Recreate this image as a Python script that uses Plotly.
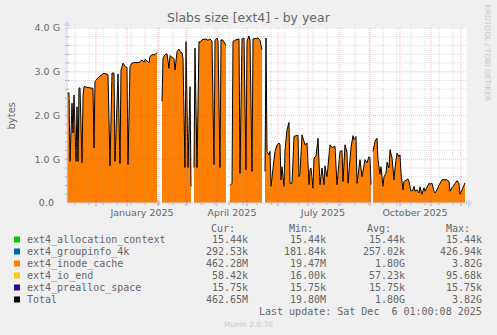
import plotly.graph_objects as go
import pandas as pd

# ---------------------------------------------------------------------------
# Data: ext4 slab cache size, yearly view (values in G)
# ---------------------------------------------------------------------------
days = [
    "2024-11-02", "2024-11-04", "2024-11-05", "2024-11-07", "2024-11-08", "2024-11-09",
    "2024-11-11", "2024-11-12", "2024-11-13", "2024-11-14", "2024-11-15", "2024-11-17",
    "2024-11-18", "2024-11-19", "2024-11-23", "2024-11-27", "2024-11-28", "2024-11-29",
    "2024-11-30", "2024-12-02", "2024-12-05", "2024-12-09", "2024-12-10", "2024-12-12",
    "2024-12-13", "2024-12-15", "2024-12-17", "2024-12-19", "2024-12-20", "2024-12-23",
    "2024-12-25", "2024-12-26", "2024-12-28", "2024-12-30", "2025-01-01", "2025-01-02",
    "2025-01-04", "2025-01-06", "2025-01-09", "2025-01-13", "2025-01-14", "2025-01-16",
    "2025-01-18", "2025-01-19", "2025-01-21", "2025-01-23", "2025-01-24", "2025-01-26",
    "2025-01-29", "2025-01-31", "2025-02-01",
    "2025-02-05", "2025-02-06", "2025-02-08", "2025-02-10", "2025-02-12", "2025-02-13",
    "2025-02-15", "2025-02-17", "2025-02-18", "2025-02-20", "2025-02-22", "2025-02-23",
    "2025-02-25", "2025-02-26", "2025-02-28", "2025-03-01", "2025-03-03", "2025-03-04",
    "2025-03-05", "2025-03-06", "2025-03-07",
    "2025-03-09", "2025-03-10", "2025-03-12", "2025-03-14", "2025-03-15", "2025-03-17",
    "2025-03-20", "2025-03-23", "2025-03-25", "2025-03-27", "2025-03-29", "2025-03-30",
    "2025-04-01", "2025-04-02", "2025-04-04", "2025-04-05", "2025-04-07", "2025-04-10",
    "2025-04-11",
    "2025-04-14", "2025-04-16", "2025-04-17", "2025-04-20", "2025-04-23", "2025-04-24",
    "2025-04-26", "2025-04-28", "2025-04-30", "2025-05-01", "2025-05-03", "2025-05-04",
    "2025-05-06", "2025-05-07", "2025-05-12", "2025-05-14", "2025-05-16", "2025-05-17",
    "2025-05-19", "2025-05-20", "2025-05-21", "2025-05-23", "2025-05-24", "2025-05-25",
    "2025-05-28", "2025-05-29", "2025-05-31", "2025-06-02", "2025-06-03", "2025-06-04",
    "2025-06-05", "2025-06-07", "2025-06-08", "2025-06-10", "2025-06-12", "2025-06-13",
    "2025-06-15", "2025-06-17", "2025-06-18", "2025-06-21", "2025-06-22", "2025-06-23",
    "2025-06-25", "2025-06-27", "2025-06-28", "2025-06-30", "2025-07-02", "2025-07-03",
    "2025-07-04", "2025-07-06", "2025-07-07", "2025-07-09", "2025-07-11", "2025-07-13",
    "2025-07-15", "2025-07-17", "2025-07-18", "2025-07-20", "2025-07-21", "2025-07-23",
    "2025-07-25", "2025-07-28", "2025-07-30", "2025-08-01", "2025-08-02", "2025-08-04",
    "2025-08-05", "2025-08-07", "2025-08-09", "2025-08-10", "2025-08-12", "2025-08-13",
    "2025-08-15", "2025-08-16", "2025-08-18", "2025-08-19", "2025-08-21", "2025-08-22",
    "2025-08-24", "2025-08-26", "2025-08-27", "2025-08-29", "2025-08-31", "2025-09-01",
    "2025-09-02", "2025-09-03",
    "2025-09-04", "2025-09-06", "2025-09-08", "2025-09-09", "2025-09-11", "2025-09-12",
    "2025-09-14", "2025-09-15", "2025-09-17", "2025-09-18", "2025-09-20", "2025-09-21",
    "2025-09-23", "2025-09-25", "2025-09-26", "2025-09-28", "2025-09-30", "2025-10-01",
    "2025-10-02", "2025-10-04", "2025-10-05", "2025-10-07", "2025-10-09", "2025-10-10",
    "2025-10-12", "2025-10-14", "2025-10-15", "2025-10-16", "2025-10-18", "2025-10-20",
    "2025-10-21", "2025-10-23", "2025-10-25", "2025-10-26", "2025-10-28", "2025-10-30",
    "2025-10-31", "2025-11-02", "2025-11-04", "2025-11-05", "2025-11-07", "2025-11-09",
    "2025-11-12", "2025-11-14", "2025-11-17", "2025-11-19", "2025-11-20", "2025-11-22",
    "2025-11-24", "2025-11-25", "2025-11-27", "2025-11-29", "2025-11-30", "2025-12-02",
    "2025-12-04", "2025-12-05",
]

inode_cache_g = [
    2.50, 2.52, 0.95, 2.28, 1.60, 2.47,
    0.95, 2.20, 0.95, 2.63, 2.63, 0.92,
    2.45, 2.66, 2.64, 2.63, 2.62, 1.26,
    2.78, 2.84, 2.90, 2.97, 2.95, 2.95,
    2.93, 0.85, 2.97, 2.97, 0.95, 2.95,
    0.90, 3.04, 3.20, 3.12, 3.10, 0.88,
    3.12, 3.20, 3.21, 3.21, 3.23, 3.27,
    3.22, 3.28, 3.25, 3.20, 3.35, 3.39,
    3.39, 3.44, None,
    2.32, 3.31, 3.39, 3.41, 3.08, 3.37,
    3.33, 3.30, 3.04, 3.46, 3.52, 3.46,
    3.43, 3.30, 0.81, 3.69, 0.81, 2.28,
    2.66, 0.38, None,
    0.81, 3.54, 0.81, 3.69, 3.67, 3.73,
    3.75, 3.72, 3.75, 3.70, 0.88, 3.72,
    3.77, 3.70, 0.81, 3.73, 3.72, 3.60,
    None,
    0.40, 0.45, 3.69, 3.73, 3.75, 0.68,
    3.75, 3.77, 0.76, 3.70, 3.82, 3.72,
    0.72, 3.75, 3.77, 3.72, 3.50, None,
    0.72, 3.77, 1.18, 1.10, 1.18, 0.38,
    0.99, 1.18, 1.33, 1.37, 1.33, 0.53,
    0.83, 0.38, 1.21, 1.67, 1.84, 0.45,
    0.45, 1.52, 1.53, 1.55, 0.60, 0.68,
    1.56, 1.37, 1.33, 1.37, 0.42, 0.76,
    0.80, 0.34, 1.03, 1.07, 1.48, 0.42,
    0.80, 0.42, 0.85, 0.60, 0.85, 1.33,
    1.27, 1.29, 0.42, 0.85, 1.18, 1.20,
    0.49, 1.33, 1.15, 0.45, 0.99, 1.27,
    1.54, 1.45, 1.52, 0.45, 0.80, 0.99,
    0.60, 0.85, 0.99, 0.92, 1.06, 1.03,
    0.42, None,
    1.18, 1.41, 1.48, 0.99, 0.66, 0.83,
    0.38, 0.60, 0.68, 0.93, 0.80, 1.22,
    1.03, 0.53, 0.80, 1.14, 1.06, 1.10,
    0.68, 0.30, 0.49, 0.53, 0.55, 0.49,
    0.27, 0.30, 0.38, 0.27, 0.30, 0.23,
    0.37, 0.20, 0.35, 0.27, 0.37, 0.45,
    0.43, 0.45, 0.27, 0.23, 0.30, 0.41,
    0.53, 0.53, 0.53, 0.49, 0.27, 0.35,
    0.41, 0.46, 0.51, 0.45, 0.20, 0.30,
    0.44, 0.46,
]

# The other ext4 caches together stay well below 1 MB, so the stacked
# total is indistinguishable from the inode cache at this scale.
total_g = list(inode_cache_g)

# Legend table
series_names = ["ext4_allocation_context", "ext4_groupinfo_4k", "ext4_inode_cache",
                "ext4_io_end", "ext4_prealloc_space", "Total"]
series_colors = ["#00CC00", "#0066B3", "#FF8000", "#FFCC00", "#330099", "#000000"]
cur_vals = ["15.44k", "292.53k", "462.28M", "58.42k", "15.75k", "462.65M"]
min_vals = ["15.44k", "181.84k", "19.47M", "16.00k", "15.75k", "19.80M"]
avg_vals = ["15.44k", "257.02k", "1.80G", "57.23k", "15.75k", "1.80G"]
max_vals = ["15.44k", "426.94k", "3.82G", "95.68k", "15.75k", "3.82G"]

y_ticks = [0, 1, 2, 3, 4]
y_ticktext = ["0.0\u00a0\u00a0", "1.0 G", "2.0 G", "3.0 G", "4.0 G"]
x_label_days = ["2025-01-16", "2025-04-16", "2025-07-16", "2025-10-16"]
x_label_text = ["January 2025", "April 2025", "July 2025", "October 2025"]

x_start, x_end = "2024-11-02", "2025-12-07"

# ---------------------------------------------------------------------------
# Layout geometry
# ---------------------------------------------------------------------------
W, H = 497, 335
L, R, T, B = 67, 30, 28, 132
PW, PH = W - L - R, H - T - B


def px(x):
    return (x - L) / PW


def py(y):
    return (H - B - y) / PH


FONT = "DejaVu Sans"
MONO = "DejaVu Sans Mono"
FONT_COLOR = "#666666"
AXIS_COLOR = "#CFD6F8"
GRID_COLOR = "rgba(143,143,143,0.75)"
MGRID_COLOR = "rgba(222,79,79,0.6)"

fig = go.Figure()

# Unknown samples split the area into separate filled runs
runs, run_x, run_y = [], [], []
for d, v in zip(days, inode_cache_g):
    if v is None:
        if run_x:
            runs.append((run_x, run_y))
        run_x, run_y = [], []
    else:
        run_x.append(d)
        run_y.append(v)
if run_x:
    runs.append((run_x, run_y))

for rx, ry in runs:
    fig.add_trace(go.Scatter(
        x=rx, y=ry, mode="lines", name="ext4_inode_cache",
        line=dict(width=0, color="#FF8000"), fill="tozeroy", fillcolor="#FF8000",
        hoverinfo="skip",
    ))

fig.add_trace(go.Scatter(
    x=days, y=total_g, mode="lines", name="Total",
    line=dict(width=1, color="#000000"), connectgaps=False, hoverinfo="skip",
))

shapes = []

# minor grid (every 0.2 G) and major grid (every 1 G), drawn over the data
for i in range(1, 21):
    v = i * 0.2
    major = i % 5 == 0
    shapes.append(dict(
        type="line", xref="paper", yref="y", x0=0, x1=1, y0=v, y1=v,
        line=dict(color=MGRID_COLOR if major else GRID_COLOR,
                  width=0.6 if major else 0.4, dash="1px,1px"),
        layer="above"))
    shapes.append(dict(
        type="line", xref="paper", yref="y", x0=-2 / PW, x1=2 / PW, y0=v, y1=v,
        line=dict(color=MGRID_COLOR if major else GRID_COLOR, width=1),
        layer="above"))

# vertical grid: fortnightly minor lines, monthly major lines
for d in pd.date_range("2024-11-10", x_end, freq="14D"):
    shapes.append(dict(
        type="line", xref="x", yref="paper", x0=d, x1=d, y0=0, y1=1,
        line=dict(color=GRID_COLOR, width=0.4, dash="1px,1px"), layer="above"))
    shapes.append(dict(
        type="line", xref="x", yref="paper", x0=d, x1=d, y0=-2 / PH, y1=2 / PH,
        line=dict(color=GRID_COLOR, width=1), layer="above"))
for d in pd.date_range("2024-12-01", x_end, freq="MS"):
    shapes.append(dict(
        type="line", xref="x", yref="paper", x0=d, x1=d, y0=0, y1=1,
        line=dict(color=MGRID_COLOR, width=0.6, dash="1px,1px"), layer="above"))
    shapes.append(dict(
        type="line", xref="x", yref="paper", x0=d, x1=d, y0=-3 / PH, y1=3 / PH,
        line=dict(color=MGRID_COLOR, width=1), layer="above"))

# axes with arrow heads
shapes.append(dict(type="line", xref="paper", yref="paper", x0=0, x1=1 + 3 / PW,
                   y0=0, y1=0, line=dict(color=AXIS_COLOR, width=1), layer="above"))
shapes.append(dict(type="line", xref="paper", yref="paper", x0=0, x1=0,
                   y0=0, y1=1 + 4 / PH, line=dict(color=AXIS_COLOR, width=1),
                   layer="above"))
shapes.append(dict(type="path", xref="paper", yref="paper", xsizemode="pixel",
                   ysizemode="pixel", xanchor=1, yanchor=0,
                   path="M 1,-3.5 L 6,0 L 1,3.5 Z", fillcolor=AXIS_COLOR,
                   line=dict(width=0), layer="above"))
shapes.append(dict(type="path", xref="paper", yref="paper", xsizemode="pixel",
                   ysizemode="pixel", xanchor=0, yanchor=1,
                   path="M -3.5,2 L 0,7 L 3.5,2 Z", fillcolor=AXIS_COLOR,
                   line=dict(width=0), layer="above"))

annotations = []


def text(x, y, s, size=10, family=FONT, color=FONT_COLOR, xanchor="left",
         angle=0):
    annotations.append(dict(
        x=px(x), y=py(y), xref="paper", yref="paper", text=s, showarrow=False,
        xanchor=xanchor, yanchor="middle", textangle=angle, borderpad=0,
        font=dict(family=family, size=size, color=color)))


text(248.5, 18, "Slabs size [ext4] - by year", size=12.5, xanchor="center")
text(11, 115.5, "bytes", size=10, xanchor="center", angle=-90)
text(487.5, 53, "RRDTOOL / TOBI OETIKER", size=7.5, color="#C8C8C8",
     xanchor="center", angle=90)
text(248.5, 324, "Munin 2.0.76", size=7.5, color="#C8C8C8", xanchor="center")

# legend table
col_right = [248.5, 327, 405.5, 483]
head_right = [236, 314, 392, 470.5]
for hx, h in zip(head_right, ["Cur:", "Min:", "Avg:", "Max:"]):
    text(hx, 228, h, family=MONO, xanchor="right")

row_y0, row_dy = 239.5, 12
for i, name in enumerate(series_names):
    yy = row_y0 + i * row_dy
    shapes.append(dict(type="rect", xref="paper", yref="paper",
                       x0=px(14), x1=px(20), y0=py(yy - 3), y1=py(yy + 3),
                       fillcolor=series_colors[i], line=dict(width=0)))
    text(26, yy, name, family=MONO)
    for cx, vals in zip(col_right, [cur_vals, min_vals, avg_vals, max_vals]):
        text(cx, yy, vals[i], family=MONO, xanchor="right")

text(483, 311.5, "Last update: Sat Dec\u00a0\u00a06 01:00:08 2025", family=MONO,
     xanchor="right")

fig.update_layout(
    width=W, height=H, autosize=False,
    margin=dict(l=L, r=R, t=T, b=B, pad=0),
    paper_bgcolor="#F0F0F0", plot_bgcolor="#FFFFFF",
    showlegend=False,
    shapes=shapes, annotations=annotations,
    xaxis=dict(
        type="date", range=[x_start, x_end], showgrid=False, zeroline=False,
        showline=False, ticks="", tickmode="array", tickvals=x_label_days,
        ticktext=x_label_text, ticklabelstandoff=2,
        tickfont=dict(family=FONT, size=9.5, color=FONT_COLOR),
    ),
    yaxis=dict(
        range=[0, 4], showgrid=False, zeroline=False, showline=False,
        ticks="", tickmode="array", tickvals=y_ticks, ticktext=y_ticktext,
        ticklabelstandoff=6,
        tickfont=dict(family=FONT, size=9.5, color=FONT_COLOR),
    ),
)

fig.write_html("out.html")
